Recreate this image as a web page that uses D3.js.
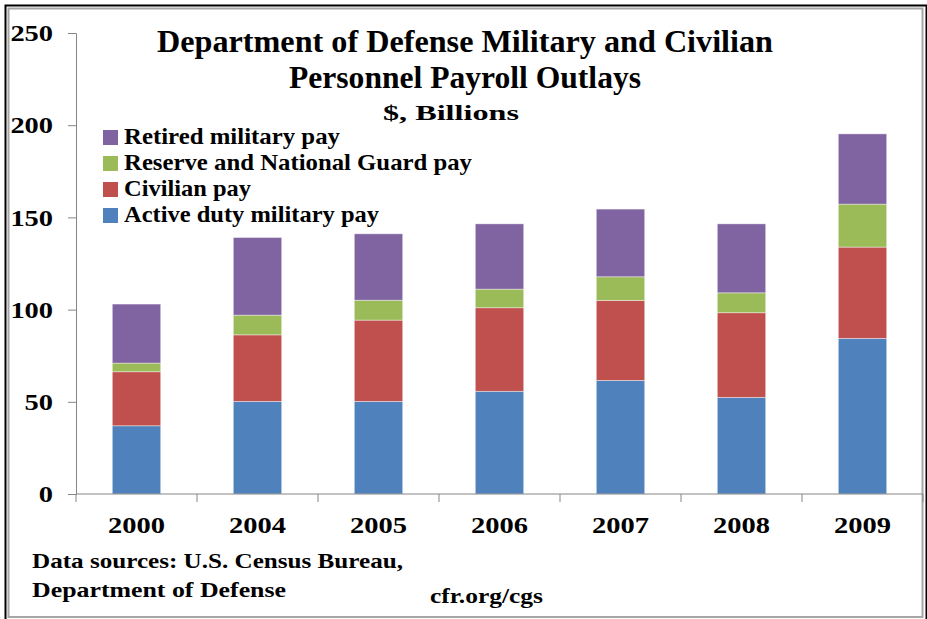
<!DOCTYPE html>
<html>
<head>
<meta charset="utf-8">
<script src="https://cdn.jsdelivr.net/npm/d3@7"></script>
<style>
  body { margin: 0; background: #fff; }
  svg text { font-family: "Liberation Serif", "DejaVu Serif", serif; font-weight: bold; fill: #000; }
</style>
</head>
<body>
<div id="container"></div>
<script>
const width = 927;
const height = 619;

// data, $ billions
const years = ["2000", "2004", "2005", "2006", "2007", "2008", "2009"];
const activeDuty = [37.0, 50.2, 50.2, 55.7, 61.6, 52.4, 84.4];
const civilian = [29.3, 36.1, 44.1, 45.3, 43.4, 45.9, 49.5];
const reserveGuard = [4.7, 10.7, 10.8, 10.1, 12.8, 10.8, 23.3];
const retired = [32.0, 42.1, 36.0, 35.4, 36.7, 37.4, 38.1];
const seriesNames = ["Active duty military pay", "Civilian pay", "Reserve and National Guard pay", "Retired military pay"];
const yTicks = [0, 50, 100, 150, 200, 250];

const colors = ["#4F81BD", "#C0504D", "#9BBB59", "#8064A2"];
const margin = { top: 33, right: 4, bottom: 125, left: 76 };

// the original uses a wide Garamond-like face; stretch text to its widths
function fit(sel, len) {
  sel.attr("textLength", len).attr("lengthAdjust", "spacingAndGlyphs");
}

const svg = d3.select("#container")
  .append("svg")
  .attr("width", width)
  .attr("height", height);

// frame
svg.append("rect")
  .attr("x", 5.5).attr("y", 5.5)
  .attr("width", 921).attr("height", 620)
  .attr("fill", "none").attr("stroke", "#000").attr("stroke-width", 2);
svg.append("rect")
  .attr("x", 8.5).attr("y", 8.5)
  .attr("width", 914).attr("height", 608.5)
  .attr("fill", "none").attr("stroke", "#a6a6a6").attr("stroke-width", 2);

const rows = years.map((y, i) => ({
  year: y,
  [seriesNames[0]]: activeDuty[i],
  [seriesNames[1]]: civilian[i],
  [seriesNames[2]]: reserveGuard[i],
  [seriesNames[3]]: retired[i]
}));

const stacked = d3.stack().keys(seriesNames)(rows);

const x = d3.scaleBand()
  .domain(years)
  .range([margin.left, width - margin.right])
  .paddingInner(0.6)
  .paddingOuter(0.3);

const y = d3.scaleLinear()
  .domain([0, 250])
  .range([height - margin.bottom, margin.top]);

// bars
svg.append("g")
  .selectAll("g")
  .data(stacked)
  .join("g")
  .attr("fill", (d, i) => colors[i])
  .selectAll("rect")
  .data(d => d)
  .join("rect")
  .attr("x", d => x(d.data.year))
  .attr("y", d => y(d[1]))
  .attr("width", x.bandwidth())
  .attr("height", d => y(d[0]) - y(d[1]))
  .attr("stroke", "#fff")
  .attr("stroke-opacity", 0.5)
  .attr("stroke-width", 0.8);

// y axis
const yAxis = svg.append("g")
  .attr("transform", `translate(${margin.left},0)`)
  .call(d3.axisLeft(y).tickValues(yTicks).tickSize(8).tickPadding(15));
yAxis.select(".domain").attr("stroke", "#868686");
yAxis.selectAll(".tick line").attr("stroke", "#868686");
yAxis.selectAll(".tick text")
  .attr("font-size", 24)
  .attr("font-family", null)
  .each(function(d) {
    fit(d3.select(this), String(d).length * 14.2);
  });

// x axis
const bounds = [...years.map(d => x(d) - x.step() * x.paddingInner() / 2), width - margin.right];
const xAxisG = svg.append("g");
xAxisG.append("line")
  .attr("x1", margin.left).attr("x2", width - margin.right)
  .attr("y1", y(0)).attr("y2", y(0))
  .attr("stroke", "#868686");
xAxisG.selectAll(".tk")
  .data(bounds)
  .join("line")
  .attr("x1", d => d).attr("x2", d => d)
  .attr("y1", y(0)).attr("y2", y(0) + 8)
  .attr("stroke", "#868686");
xAxisG.selectAll("text")
  .data(years)
  .join("text")
  .attr("x", d => x(d) + x.bandwidth() / 2)
  .attr("y", 533)
  .attr("text-anchor", "middle")
  .attr("font-size", 23)
  .text(d => d)
  .call(fit, 57);

// title
svg.append("text")
  .attr("x", 157).attr("y", 52)
  .attr("font-size", 31)
  .text("Department of Defense Military and Civilian")
  .call(fit, 616);
svg.append("text")
  .attr("x", 289).attr("y", 88)
  .attr("font-size", 31)
  .text("Personnel Payroll Outlays")
  .call(fit, 352);
svg.append("text")
  .attr("x", 383).attr("y", 120)
  .attr("font-size", 21)
  .text("$, Billions")
  .call(fit, 136);

// legend, top entry is last series
const legendWidths = [255, 127, 348, 216]; // text widths, same order as seriesNames
const legend = svg.append("g")
  .selectAll("g")
  .data(seriesNames.slice().reverse())
  .join("g")
  .attr("transform", (d, i) => `translate(103,${130 + i * 26})`);
legend.append("rect")
  .attr("width", 15).attr("height", 15)
  .attr("fill", d => colors[seriesNames.indexOf(d)]);
legend.append("text")
  .attr("x", 21).attr("y", 13.5)
  .attr("font-size", 23)
  .text(d => d)
  .each(function(d) {
    fit(d3.select(this), legendWidths[seriesNames.indexOf(d)]);
  });

// footer
svg.append("text")
  .attr("x", 32).attr("y", 568)
  .attr("font-size", 22)
  .text("Data sources: U.S. Census Bureau,")
  .call(fit, 371);
svg.append("text")
  .attr("x", 32).attr("y", 597)
  .attr("font-size", 22)
  .text("Department of Defense")
  .call(fit, 254);
svg.append("text")
  .attr("x", 430).attr("y", 603)
  .attr("font-size", 22)
  .text("cfr.org/cgs")
  .call(fit, 113);
</script>
</body>
</html>
